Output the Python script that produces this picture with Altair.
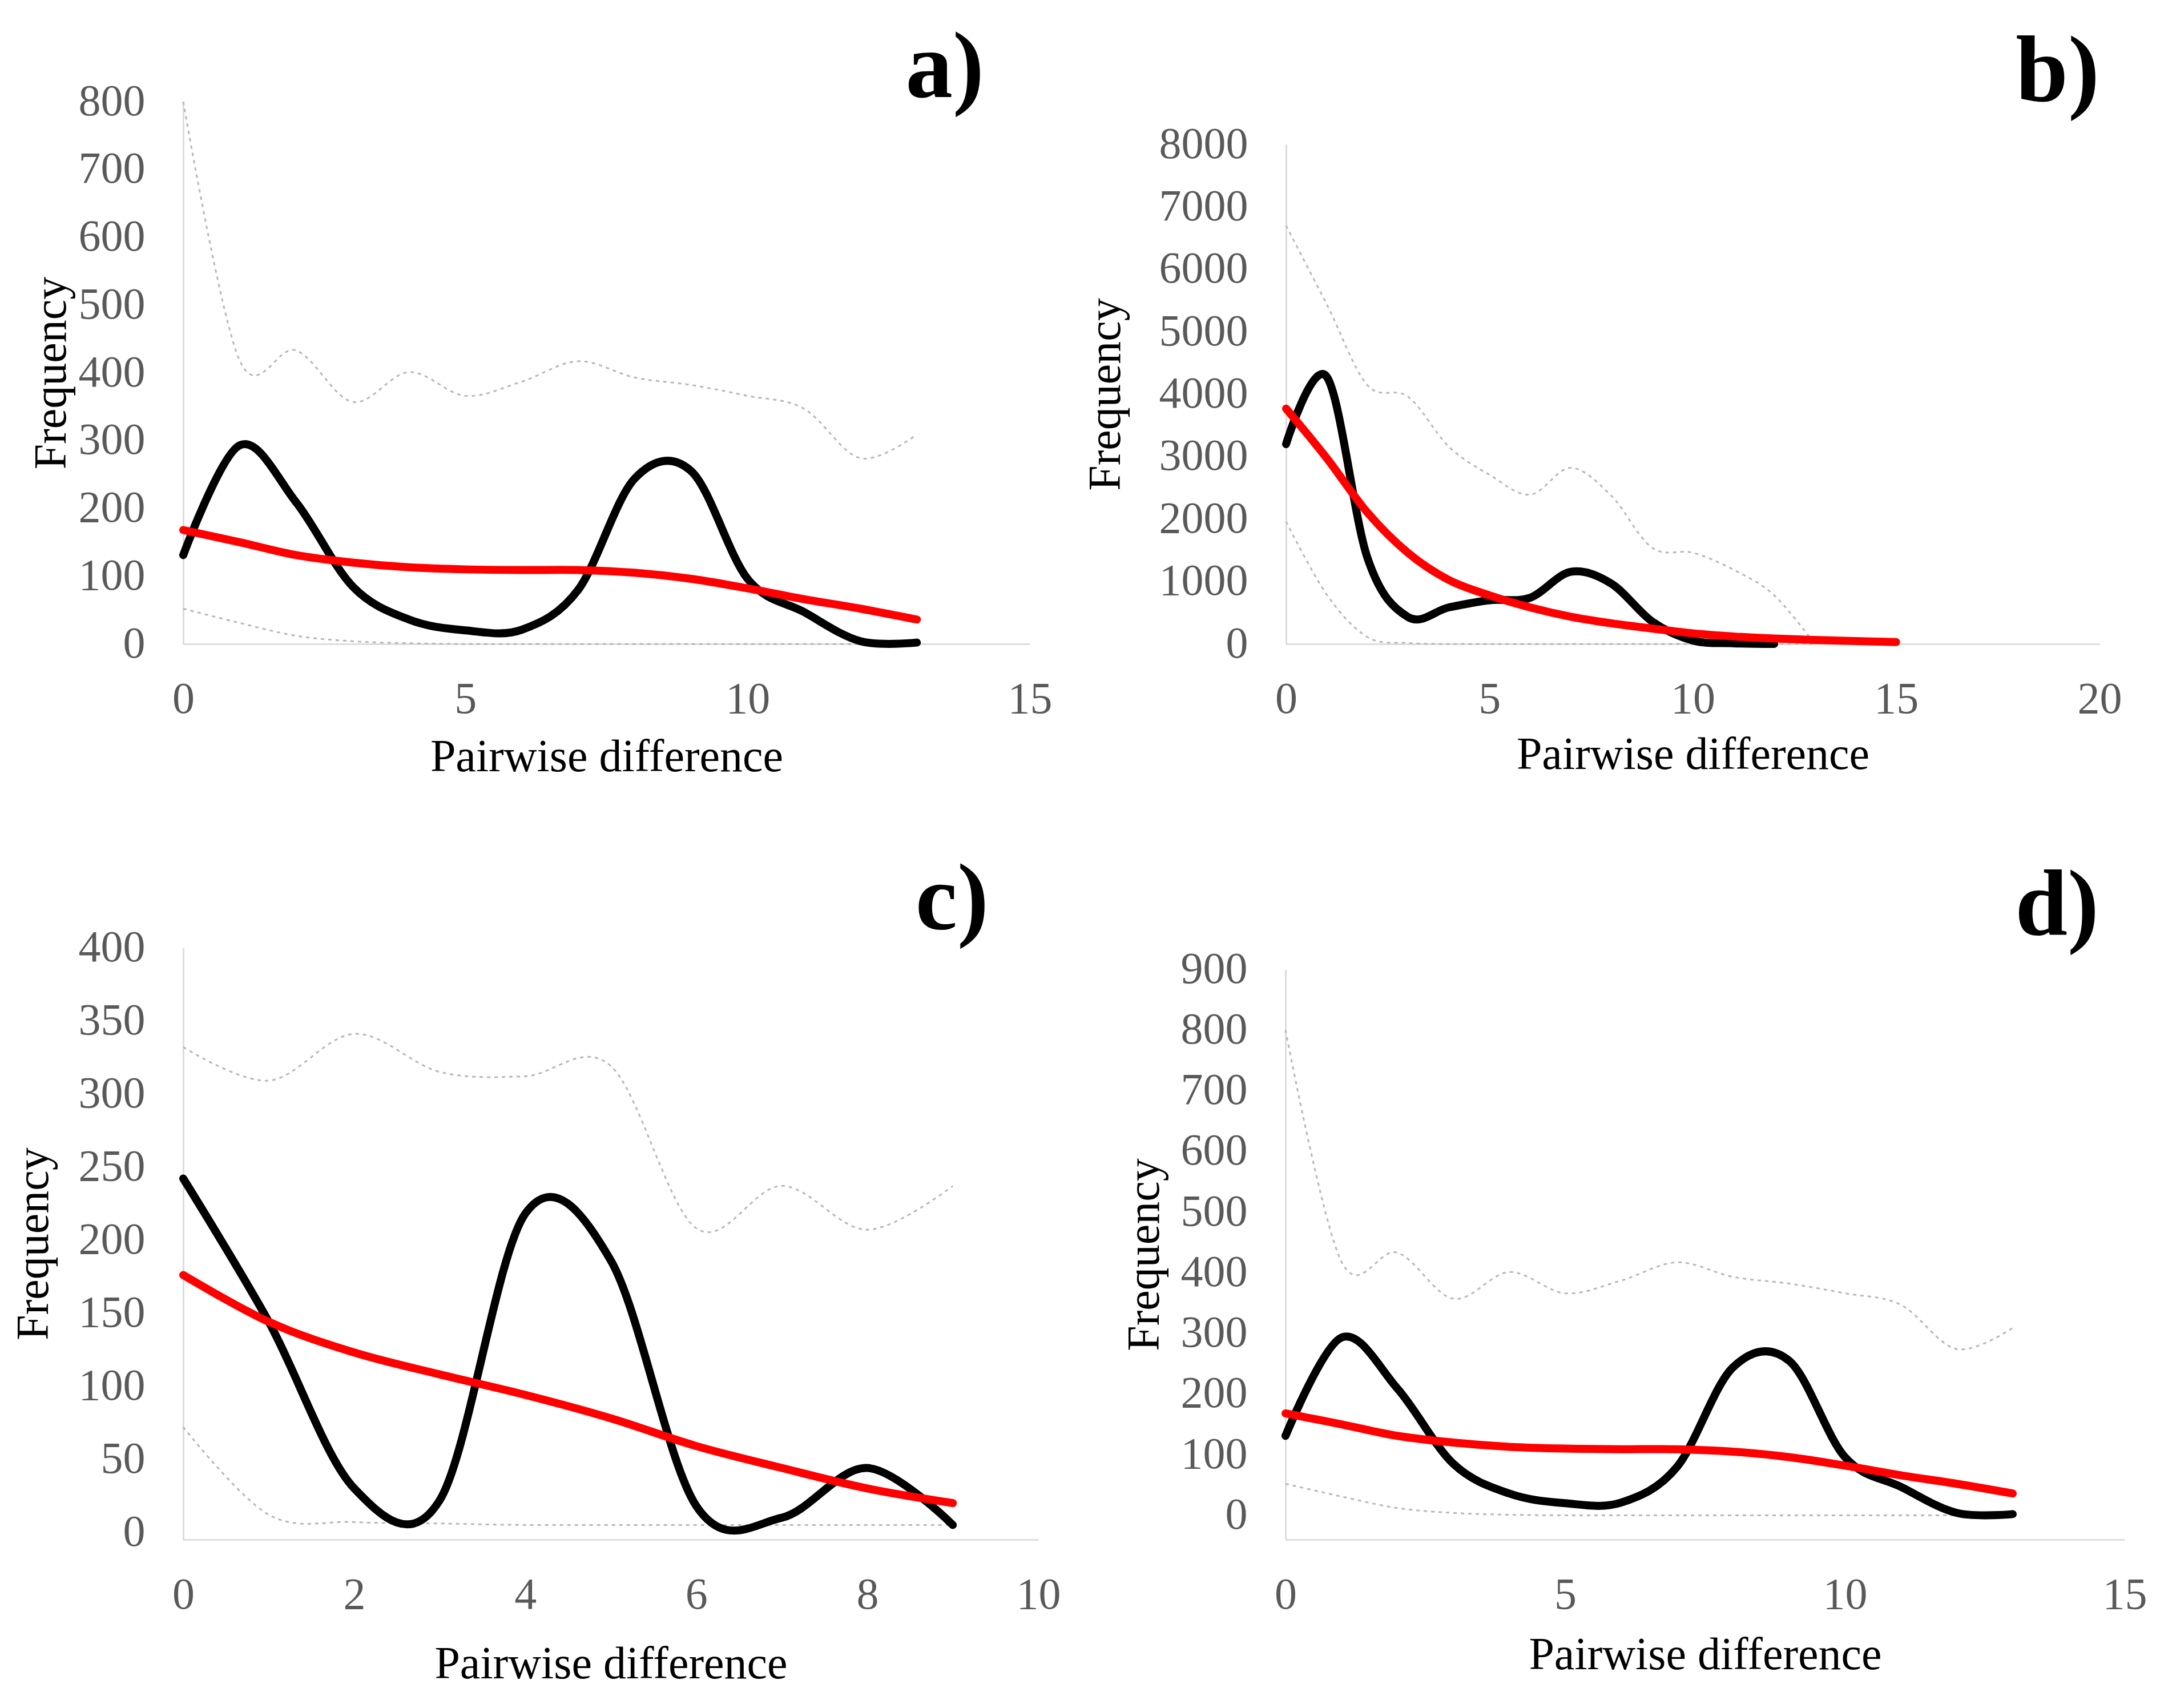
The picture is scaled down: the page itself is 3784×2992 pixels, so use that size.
import altair as alt
import pandas as pd

FONT = "Liberation Serif"

# a) and d) show the same mismatch distribution
ad_x = list(range(14))
ad_observed = [131, 293, 209, 85, 36, 20, 21, 80, 244, 255, 96, 47, 4, 2]
ad_expected = [168, 150, 131, 120, 113, 110, 109, 109, 105, 96, 82, 66, 52, 36]
ad_upper = [800, 418, 433, 357, 401, 366, 387, 417, 393, 382, 366, 347, 274, 309]
ad_lower = [52, 31, 12, 4, 1, 0, 0, 0, 0, 0, 0, 0, 0, 0]

b_obs_x = list(range(13))
b_observed = [3200, 4280, 1380, 430, 585, 700, 740, 1155, 965, 360, 55, 10, 0]
b_exp_x = list(range(16))
b_expected = [3770, 2975, 2105, 1458, 1025, 778, 585, 435, 330, 247, 170, 120, 87, 64, 45, 30]
b_ci_x = list(range(14))
b_upper = [6700, 5440, 4145, 3960, 3160, 2710, 2390, 2820, 2370, 1540, 1460, 1190, 780, 0]
b_lower = [1960, 790, 110, 15, 0, 0, 0, 0, 0, 0, 0, 0, 0, 0]

c_x = list(range(10))
c_observed = [242, 144, 30, 22, 218, 186, 18, 10, 44, 5]
c_expected = [176, 144, 123, 108, 94, 78, 59, 44, 30, 20]
c_upper = [332, 309, 341, 315, 312, 319, 208, 237, 207, 237]
c_lower = [72, 12, 7, 6, 5, 5, 5, 5, 5, 5]


def long_frame(parts):
    rows = []
    for series, xs, ys in parts:
        rows += [{"x": x, "value": v, "series": series} for x, v in zip(xs, ys)]
    return pd.DataFrame(rows)


def panel(frame, label, x_max, x_step, y_domain, y_step, y_top, width, height,
          y_title_pad, x_title_pad, label_dx, label_offset):
    x_enc = alt.X(
        "x:Q",
        scale=alt.Scale(domain=[0, x_max], nice=False, zero=False),
        axis=alt.Axis(values=list(range(0, x_max + 1, x_step)), title="Pairwise difference",
                      titlePadding=x_title_pad),
    )
    y_enc = alt.Y(
        "value:Q",
        scale=alt.Scale(domain=y_domain, range=[height, y_top], nice=False, zero=False),
        axis=alt.Axis(values=list(range(0, y_domain[1] + 1, y_step)), title="Frequency",
                      format="d", titlePadding=y_title_pad),
    )
    base = alt.Chart(frame).encode(x=x_enc, y=y_enc)

    bands = base.transform_filter(
        alt.FieldOneOfPredicate(field="series", oneOf=["upper", "lower"])
    ).mark_line(color="#b8b8b8", strokeWidth=3, strokeDash=[6, 7], interpolate="cardinal").encode(
        detail="series:N"
    )
    observed = base.transform_filter(alt.datum.series == "observed").mark_line(
        color="black", strokeWidth=14, strokeCap="round", interpolate="cardinal"
    )
    expected = base.transform_filter(alt.datum.series == "expected").mark_line(
        color="#ff0000", strokeWidth=14, strokeCap="round", interpolate="cardinal"
    )

    return alt.layer(bands, observed, expected).properties(
        width=width,
        height=height,
        title=alt.TitleParams(
            text=label, anchor="end", frame="group", font=FONT, fontSize=165,
            fontWeight="bold", color="black", dx=label_dx, offset=label_offset,
        ),
    )


frame_ad = long_frame([
    ("observed", ad_x, ad_observed),
    ("expected", ad_x, ad_expected),
    ("upper", ad_x, ad_upper),
    ("lower", ad_x, ad_lower),
])
frame_b = long_frame([
    ("observed", b_obs_x, b_observed),
    ("expected", b_exp_x, b_expected),
    ("upper", b_ci_x, b_upper),
    ("lower", b_ci_x, b_lower),
])
frame_c = long_frame([
    ("observed", c_x, c_observed),
    ("expected", c_x, c_expected),
    ("upper", c_x, c_upper),
    ("lower", c_x, c_lower),
])

chart_a = panel(frame_ad, "a)", 15, 5, [0, 800], 100, 0, 1483, 950, 6, 23, -80, -66)
chart_b = panel(frame_b, "b)", 20, 5, [0, 8000], 1000, 75, 1425, 950, 75, 19, 0, -34)
chart_c = panel(frame_c, "c)", 10, 2, [-5, 400], 50, 0, 1498, 1037, 37, 43, -87, -41)
chart_d = panel(frame_ad, "d)", 15, 5, [-40, 900], 100, 38, 1470, 1037, 22, 27, -45, -14)

top = alt.hconcat(chart_a, chart_b, spacing=54)
bottom = alt.hconcat(chart_c, chart_d, spacing=107)

chart = (
    alt.vconcat(top, bottom, spacing=129)
    .properties(padding={"left": 11, "top": 30, "right": 0, "bottom": 0}, background="white")
    .configure_view(stroke=None)
    .configure_axis(
        domainColor="#d6d6d6", domainWidth=2.5, ticks=False, grid=False, labelFlush=False,
        labelFont=FONT, labelFontSize=78, labelColor="#595959",
        titleFont=FONT, titleFontSize=80, titleColor="black", titleFontWeight="normal",
    )
    .configure_axisX(labelPadding=58)
    .configure_axisY(labelPadding=67)
)

chart.save("out.html", embed_options={"renderer": "svg", "actions": False})
